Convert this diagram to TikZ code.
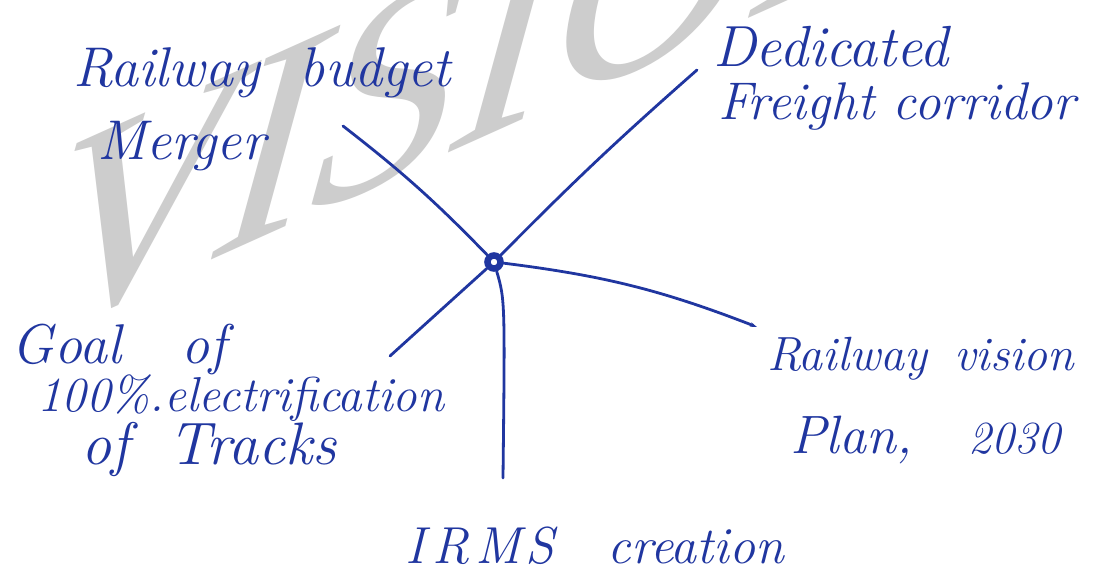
\documentclass[tikz,border=0pt]{standalone}
\usepackage{fontspec}
\newfontfamily\wmfont{Liberation Serif}
\usetikzlibrary{arrows.meta}
\definecolor{ink}{RGB}{32,54,160}
\definecolor{wmgray}{RGB}{205,205,205}
\begin{document}
\begin{tikzpicture}[x=1pt,y=-1pt,
  lbl/.style={inner sep=0pt, outer sep=0pt, anchor=base west, text=ink, font=\itshape},
  conn/.style={draw=ink, line width=2.8pt, line cap=round},
  hubdot/.style={circle, draw=ink, line width=6.5pt, minimum size=13pt, inner sep=0pt}
]
\useasboundingbox[fill=white] (0,0) rectangle (1103,577);
% watermark
\node[anchor=base west, inner sep=0pt, text=wmgray,
      font=\wmfont\itshape\fontsize{285}{285}\selectfont,
      cm={1,0.45,0.12,1,(0,0)}, transform shape] (watermark) at (38,338) {VISION};
% labels
\node[lbl] (merger) at (73,87) {\fontsize{56}{73}\selectfont\vtop{\hbox{Railway\hspace{40pt}budget}\hbox{\hspace*{24pt}Merger}}};
\node[lbl] (dfc) at (713,67) {\vtop{\baselineskip=53pt \hbox{\fontsize{58}{58}\selectfont Dedicated}\hbox{\hspace*{5pt}\fontsize{53}{53}\selectfont Freight corridor}}};
\node[lbl] (goal) at (12,363) {\vtop{\baselineskip=48.5pt \hbox{\fontsize{56}{56}\selectfont Goal\hspace{60pt}of}\hbox{\hspace*{25pt}\fontsize{49}{49}\selectfont 100\%.electrification}\hbox{\hspace*{70pt}\fontsize{60}{60}\selectfont of\hspace{39pt}Tracks}}};
\node[lbl] (rvp) at (767,370) {\vtop{\baselineskip=83pt \hbox{\fontsize{48}{48}\selectfont Railway\hspace{27pt}vision}\hbox{\hspace*{23pt}\fontsize{54}{54}\selectfont Plan,\hspace{56pt}\fontsize{46}{46}\selectfont 2030}}};
\node[lbl] (irms) at (405,563) {\fontsize{52}{52}\selectfont I\hspace{8pt}R\hspace{6pt}M\hspace{4pt}S\hspace{54pt}creation};
% hub and connector ends
\node[hubdot] (hub) at (494,262) {};
\coordinate (eA) at (343,126);
\coordinate (eB) at (697,70);
\coordinate (eC) at (390,356);
\coordinate (eD) at (757,327);
\coordinate (eE) at (503,478);
% connectors
\draw[conn] (hub) to[bend right=4] (eA);
\draw[conn] (hub) to[bend left=2] (eB);
\draw[conn] (hub) -- (eC);
\draw[conn, -{Stealth[length=7pt,width=4.5pt]}] (hub) to[bend left=7] (eD);
\draw[conn] (hub) .. controls (505,300) .. (eE);
\end{tikzpicture}
\end{document}
